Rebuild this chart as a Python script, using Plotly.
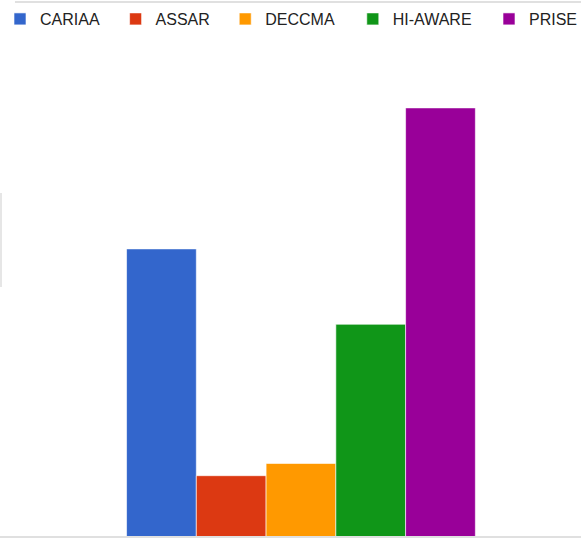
import plotly.graph_objects as go

W, H = 583, 539

series = ["CARIAA", "ASSAR", "DECCMA", "HI-AWARE", "PRISE"]
values = [47, 10, 12, 34.7, 70]
colors = ["#3366cc", "#dc3912", "#ff9900", "#109618", "#990099"]
# left edge (px) of each legend label text in the reference
legend_text_px = [41, 157, 267, 395, 532]

plot_bottom_px = 537
y_max = 87.6

fig = go.Figure()
for i, (name, val, col) in enumerate(zip(series, values, colors)):
    lg = "legend" if i == 0 else f"legend{i+1}"
    fig.add_trace(go.Bar(
        x=[0], y=[val], name=name,
        marker=dict(color=col, line=dict(color="rgba(255,255,255,0.6)", width=1)),
        legend=lg, showlegend=True, hoverinfo="skip",
    ))

# x mapping: group of 5 bars spans 350 px centered at 302 px
bargap = 0.4
unit_px = 350 / (1 - bargap)
x0 = -302 / unit_px
x1 = (W - 302) / unit_px

layout_legends = {}
for i, px in enumerate(legend_text_px):
    key = "legend" if i == 0 else f"legend{i+1}"
    layout_legends[key] = dict(
        x=(px - 41) / W, xanchor="left",
        y=1 - 19 / plot_bottom_px, yanchor="middle",
        orientation="h", bgcolor="rgba(0,0,0,0)",
        font=dict(family="Liberation Sans, Arial, sans-serif", size=16, color="#222222"),
    )

fig.update_layout(
    width=W, height=H,
    margin=dict(l=0, r=0, t=0, b=H - plot_bottom_px),
    paper_bgcolor="white", plot_bgcolor="white",
    barmode="group", bargap=bargap, bargroupgap=0,
    xaxis=dict(range=[x0, x1], showticklabels=False, showgrid=False, zeroline=False, fixedrange=True),
    yaxis=dict(range=[0, y_max], showticklabels=False, showgrid=False, zeroline=False, fixedrange=True),
    shapes=[
        dict(type="line", xref="paper", yref="paper", x0=0, x1=1, y0=0, y1=0,
             line=dict(color="#e0e0e0", width=2)),
        dict(type="line", xref="paper", yref="paper", x0=15 / W, x1=1, y0=1 - 2 / plot_bottom_px, y1=1 - 2 / plot_bottom_px,
             line=dict(color="#e0e0e0", width=2)),
        dict(type="line", xref="paper", yref="paper", x0=1 / W, x1=1 / W,
             y0=1 - 287 / plot_bottom_px, y1=1 - 193 / plot_bottom_px,
             line=dict(color="#e6e6e6", width=2)),
    ],
    **layout_legends,
)

fig.write_html(
    "out.html",
    config={"displayModeBar": False},
    post_script=(
        "document.body.style.margin='0';document.body.style.padding='0';"
        "document.body.style.overflow='hidden';"
        "document.documentElement.style.overflow='hidden';"
    ),
)
